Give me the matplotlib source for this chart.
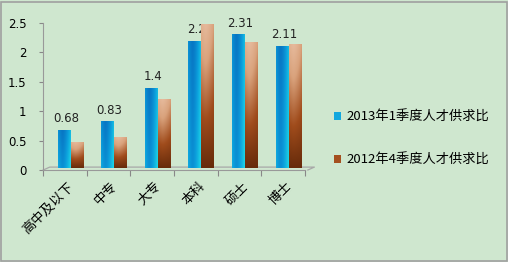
import numpy as np
import matplotlib.pyplot as plt
from matplotlib.colors import LinearSegmentedColormap
from matplotlib.patches import Patch

plt.rcParams['font.family'] = ['Noto Sans CJK SC', 'DejaVu Sans']

# 数据
categories = ['高中及以下', '中专', '大专', '本科', '硕士', '博士']
ratio_2013q1 = [0.68, 0.83, 1.4, 2.2, 2.31, 2.11]
ratio_2012q4 = [0.48, 0.56, 1.2, 2.49, 2.17, 2.14]
series_names = ['2013年1季度人才供求比', '2012年4季度人才供求比']

bg = '#cfe7cf'
blue_cmap = LinearSegmentedColormap.from_list('b', ['#1fd8e6', '#0c9fdc', '#0668bc'])
brown_cmap = LinearSegmentedColormap.from_list('o', ['#5e2608', '#a04c1c', '#d9a27c', '#ebc3a8'])


def gradient_bar(ax, x, h, w, cmap, vertical):
    # 柱子的渐变填充（近似圆柱效果）
    bar = ax.bar(x, h, w, color='none', edgecolor='none', zorder=3)[0]
    nx, ny = 40, 60
    xs = np.linspace(0, 1, nx)
    ys = np.linspace(0, 1, ny)[:, None]
    shade = 1 - 0.55 * np.abs(xs - 0.35) ** 1.5
    if vertical:
        img = ys * 0.85 * shade + 0.05
    else:
        img = (0.9 - 0.8 * ys) * 0.3 + (1 - shade) * 2.2 + 0.1
        img = 1 - np.clip(img, 0, 1)
    im = ax.imshow(img, cmap=cmap, vmin=0, vmax=1, origin='lower', aspect='auto',
                   extent=(x - w / 2, x + w / 2, 0.04, h), zorder=3, interpolation='bilinear')
    im.set_clip_path(bar)


fig = plt.figure(figsize=(5.08, 2.62), dpi=100)
fig.patch.set_facecolor(bg)
fig.add_artist(plt.Rectangle((0.002, 0.004), 0.996, 0.99, transform=fig.transFigure,
                             fill=False, edgecolor='#a0a0a0', linewidth=1.2))

ax = fig.add_axes([0.085, 0.351, 0.515, 0.561])
ax.set_facecolor('none')

# 底面（3D 效果的地板线）
ax.plot([-0.5, -0.35, 5.72, 5.57], [0, 0.05, 0.05, 0], color='#a8a8a8', lw=0.9,
        clip_on=False, zorder=2)

x = np.arange(len(categories))
w = 0.28
for i in range(len(categories)):
    gradient_bar(ax, x[i] - 0.03, ratio_2013q1[i], w, blue_cmap, False)
    gradient_bar(ax, x[i] + 0.27, ratio_2012q4[i], w, brown_cmap, True)
    ax.text(x[i] + 0.02, ratio_2013q1[i] + 0.08, f'{ratio_2013q1[i]:g}', ha='center', va='bottom',
            fontsize=8.5, color='#222222', zorder=2, family='DejaVu Sans')

ax.set_xlim(-0.5, 5.5)
ax.set_ylim(0, 2.5)
ax.set_yticks([0, 0.5, 1, 1.5, 2, 2.5])
ax.set_yticklabels(['0', '0.5', '1', '1.5', '2', '2.5'], family='DejaVu Sans')
ax.set_xticks(np.arange(-0.5, 6, 1))
ax.set_xticklabels([])
ax.set_xticks(x + 0.05, minor=True)
ax.set_xticklabels(categories, minor=True, rotation=45, ha='right', rotation_mode='anchor',
                   fontsize=9.5)
ax.tick_params(axis='x', which='minor', length=0, pad=7)
ax.tick_params(axis='x', which='major', length=4, color='#888888', direction='out')
ax.tick_params(axis='y', length=3, color='#888888', labelsize=8.5, pad=9)

for s in ['top', 'right']:
    ax.spines[s].set_visible(False)
for s in ['left', 'bottom']:
    ax.spines[s].set_color('#999999')

handles = [Patch(facecolor='#12a8de', edgecolor='none'), Patch(facecolor='#a4501f', edgecolor='none')]
fig.legend(handles, series_names, loc='center left', bbox_to_anchor=(0.634, 0.47),
           frameon=False, fontsize=9.5, handlelength=0.55, handleheight=0.55, handletextpad=0.4,
           labelspacing=2.3)

fig.savefig('out.png', dpi=100, facecolor=bg)
